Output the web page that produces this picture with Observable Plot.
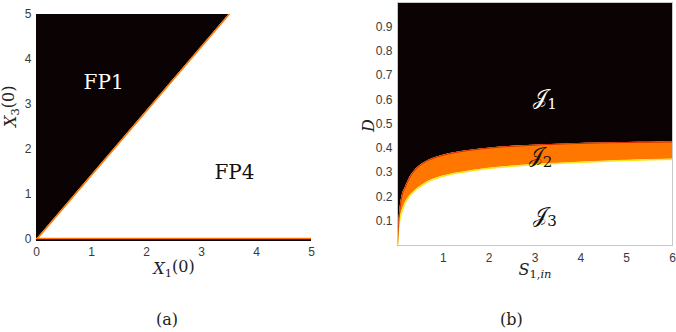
<!DOCTYPE html>
<html><head><meta charset="utf-8">
<script src="https://cdn.jsdelivr.net/npm/d3@7"></script>
<script src="https://cdn.jsdelivr.net/npm/@observablehq/plot@0.6"></script>
<style>
body{margin:0;background:#fff;}
#wrap{display:flex;width:676px;height:332px;}
.panel{display:flex;flex-direction:column;}
.cap{height:42px;box-sizing:border-box;padding-top:18px;line-height:24px;font-family:"DejaVu Serif",serif;font-size:16px;color:#222;}
</style></head>
<body>
<div id="wrap">
  <div class="panel" id="pa" style="width:340px"></div>
  <div class="panel" id="pb" style="width:336px"></div>
</div>
<script>
// Panel (a): basin boundary between FP1 and FP4
const boundaryX1 = [0, 3.5];
const boundaryX3 = [0, 5];
const ticksA = [0, 1, 2, 3, 4, 5];
const labelsA = [{t: "FP1", x: 1.22, y: 3.49, c: "#fff"}, {t: "FP4", x: 3.6, y: 1.49, c: "#111"}];

// Panel (b): operating diagram regions
const S1in   = [0, 0.02, 0.06, 0.1, 0.17, 0.25, 0.35, 0.45, 0.57, 0.7, 0.86, 1.05, 1.3, 1.55, 1.81, 2.24, 2.7, 3.2, 3.8, 4.4, 5.0, 5.5, 6.0];
const Dupper = [0, 0.07, 0.16, 0.205, 0.24, 0.274, 0.302, 0.323, 0.34, 0.353, 0.364, 0.374, 0.384, 0.391, 0.397, 0.405, 0.41, 0.415, 0.419, 0.422, 0.424, 0.425, 0.426];
const Dlower = [0, 0.06, 0.115, 0.143, 0.176, 0.2, 0.22, 0.237, 0.252, 0.266, 0.278, 0.288, 0.298, 0.306, 0.313, 0.322, 0.329, 0.335, 0.341, 0.346, 0.35, 0.353, 0.355];
const ticksBx = [1, 2, 3, 4, 5, 6];
const ticksBy = [0.1, 0.2, 0.3, 0.4, 0.5, 0.6, 0.7, 0.8, 0.9];
const labelsB = [{t: "J1", s: 3.22, d: 0.61, c: "#fff"}, {t: "J2", s: 3.12, d: 0.37, c: "#111"}, {t: "J3", s: 3.22, d: 0.125, c: "#111"}];

const BLACK = "#0b0203", ORANGE = "#ff7700", YELLOW = "#ffe81a";
const tickStyle = {fontSize: 12, fill: "#3a3a3a", fontFamily: "'Liberation Sans', Arial, sans-serif"};
const serif = "'DejaVu Serif', serif";

// rebuild a text element as italic base + subscript
function mathText(svg, key, parts) {
  d3.select(svg).selectAll("text").filter(function() { return this.textContent === key; }).each(function() {
    const t = d3.select(this);
    t.text(null);
    let shifted = false;
    for (const p of parts) {
      const ts = t.append("tspan").text(p.t);
      ts.attr("font-style", p.i ? "italic" : "normal");
      if (p.sub && !shifted) { ts.attr("dy", "0.3em").attr("font-size", "0.72em"); shifted = true; }
      else if (!p.sub && shifted) { ts.attr("dy", "-0.3em"); shifted = false; }
      else if (p.sub) ts.attr("font-size", "0.72em");
    }
  });
}

const bnd = boundaryX1.map((x, i) => ({x1: x, x3: boundaryX3[i]}));
const A = Plot.plot({
  width: 340, height: 290,
  marginLeft: 36, marginRight: 29, marginTop: 14, marginBottom: 51,
  style: {background: "#fff", overflow: "visible"},
  x: {domain: [0, 5]}, y: {domain: [0, 5]},
  marks: [
    Plot.areaX(bnd, {y: "x3", x1: 0, x2: "x1", fill: BLACK}),
    Plot.line(bnd, {x: "x1", y: "x3", stroke: ORANGE, strokeWidth: 1.5}),
    Plot.ruleY([0], {stroke: BLACK, strokeWidth: 3}),
    Plot.ruleY([0], {stroke: ORANGE, strokeWidth: 1.5, dy: -1}),
    Plot.axisX({ticks: ticksA, tickSize: 0, tickPadding: 8, label: null, tickFormat: d3.format("d"), ...tickStyle}),
    Plot.axisY({ticks: ticksA, tickSize: 0, tickPadding: 5, label: null, tickFormat: d3.format("d"), ...tickStyle}),
    Plot.text(labelsA, {x: "x", y: "y", text: "t", fill: "c", fontSize: 20, fontFamily: serif}),
    Plot.text(["X1(0)"], {frameAnchor: "bottom", dy: 34, text: d => d, fontSize: 16, fontFamily: serif, fill: "#222"}),
    Plot.text(["X3(0)"], {frameAnchor: "left", dx: -26, rotate: -90, text: d => d, fontSize: 16, fontFamily: serif, fill: "#222"})
  ]
});
mathText(A, "X1(0)", [{t: "X", i: true}, {t: "1", sub: true}, {t: "(0)"}]);
mathText(A, "X3(0)", [{t: "X", i: true}, {t: "3", sub: true}, {t: "(0)"}]);
document.getElementById("pa").append(A);
const ca = document.createElement("div"); ca.className = "cap"; ca.style.paddingLeft = "156px"; ca.textContent = "(a)";
document.getElementById("pa").append(ca);

const reg = S1in.map((s, i) => ({s, up: Dupper[i], lo: Dlower[i]}));
const B = Plot.plot({
  width: 336, height: 290,
  marginLeft: 57, marginRight: 4, marginTop: 2, marginBottom: 45,
  style: {background: "#fff", overflow: "visible"},
  x: {domain: [0, 6]}, y: {domain: [0, 1]},
  marks: [
    Plot.areaY(reg, {x: "s", y1: "up", y2: 1, fill: BLACK, curve: "monotone-x"}),
    Plot.areaY(reg, {x: "s", y1: "lo", y2: "up", fill: ORANGE, curve: "monotone-x"}),
    Plot.line(reg, {x: "s", y: "lo", stroke: YELLOW, strokeWidth: 1.5, curve: "monotone-x"}),
    Plot.line(reg, {x: "s", y: "up", stroke: "#c81000", strokeWidth: 0.8, curve: "monotone-x"}),
    Plot.frame({stroke: "#c8c8c8", strokeWidth: 1}),
    Plot.axisX({ticks: ticksBx, tickSize: 0, tickPadding: 8, label: null, tickFormat: d3.format("d"), ...tickStyle}),
    Plot.axisY({ticks: ticksBy, tickSize: 0, tickPadding: 5, label: null, tickFormat: d3.format(".1f"), ...tickStyle}),
    Plot.text(labelsB, {x: "s", y: "d", text: "t", fill: "c", fontSize: 21, fontFamily: serif}),
    Plot.text(["S1,in"], {frameAnchor: "bottom", dy: 29, text: d => d, fontSize: 16, fontFamily: serif, fill: "#222"}),
    Plot.text(["D"], {frameAnchor: "left", dx: -29, dy: 8, rotate: -90, text: d => d, fontSize: 16, fontStyle: "italic", fontFamily: serif, fill: "#222"})
  ]
});
mathText(B, "S1,in", [{t: "S", i: true}, {t: "1,", sub: true}, {t: "in", sub: true, i: true}]);
for (const k of ["1", "2", "3"]) mathText(B, "J" + k, [{t: "𝒥"}, {t: k, sub: true}]);
document.getElementById("pb").append(B);
const cb = document.createElement("div"); cb.className = "cap"; cb.style.paddingLeft = "160px"; cb.textContent = "(b)";
document.getElementById("pb").append(cb);
</script>
</body></html>
